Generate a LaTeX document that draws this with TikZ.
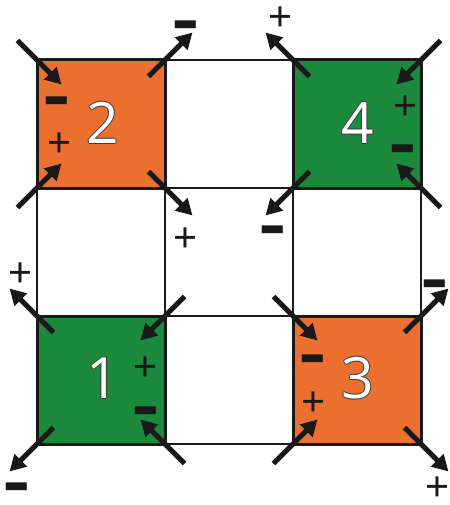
\documentclass[tikz,border=0pt]{standalone}
\usepackage{fontspec}
\setmainfont{Open Sans}
\newfontfamily\signfont{Liberation Sans}
\usetikzlibrary{arrows.meta,calc}
\definecolor{sqorange}{RGB}{235,112,48}
\definecolor{sqgreen}{RGB}{27,138,60}
\definecolor{outl}{RGB}{60,60,60}
\definecolor{ink}{RGB}{25,25,25}
\newcommand\outlined[1]{\leavevmode
  \rlap{\kern-0.8pt\color{outl}#1}\rlap{\kern0.8pt\color{outl}#1}%
  \rlap{\color{outl}\raisebox{0.8pt}{#1}}\rlap{\color{outl}\raisebox{-0.8pt}{#1}}%
  {\color{white}#1}}
\newcommand\cornerarrow[4]{%
  \coordinate (#1-tail) at ($(#2)+({-18*(#3)},{-18*(#4)})$);
  \coordinate (#1-tip) at ($(#2)+({26*(#3)},{26*(#4)})$);
  \draw[arr] (#1-tail) -- (#1-tip);}
\tikzset{
  cell/.style={draw=ink, line width=2pt, minimum width=128pt, minimum height=128pt, inner sep=0pt, fill=white},
  colcell/.style={cell, line width=3pt},
  arr/.style={draw=ink, line width=5pt, -{Triangle[length=16pt,width=17pt]}},
  digit/.style={font=\fontsize{57}{57}\selectfont, inner sep=0pt},
  plus/.style={font=\signfont\fontsize{41}{41}\selectfont, text=ink, inner sep=0pt},
  minus/.style={font=\signfont\bfseries\fontsize{42}{42}\selectfont, text=ink, inner sep=0pt, yshift=-12pt}
}
\newcommand\mns{\scalebox{1}[1.7]{−}}
\begin{document}
\begin{tikzpicture}[x=1pt,y=-1pt]
\useasboundingbox (0,0) rectangle (449,505);
% white cells
\node[cell] (c10) at (229,124) {};
\node[cell] (c01) at (101,252) {};
\node[cell] (c11) at (229,252) {};
\node[cell] (c21) at (357,252) {};
\node[cell] (c12) at (229,380) {};
% coloured cells
\node[colcell, fill=sqorange] (c00) at (101,124) {};
\node[colcell, fill=sqgreen] (c20) at (357,124) {};
\node[colcell, fill=sqgreen] (c02) at (101,380) {};
\node[colcell, fill=sqorange] (c22) at (357,380) {};
% digits
\node[digit] (d2) at (103,123) {\outlined{2}};
\node[digit] (d4) at (358,123) {\outlined{4}};
\node[digit] (d1) at (103,378) {\outlined{1}};
\node[digit] (d3) at (358,378) {\outlined{3}};
% arrows square 2
\cornerarrow{a2nw}{c00.north west}{1}{1}
\cornerarrow{a2ne}{c00.north east}{1}{-1}
\cornerarrow{a2sw}{c00.south west}{1}{-1}
\cornerarrow{a2se}{c00.south east}{1}{1}
% arrows square 4
\cornerarrow{a4nw}{c20.north west}{-1}{-1}
\cornerarrow{a4ne}{c20.north east}{-1}{1}
\cornerarrow{a4sw}{c20.south west}{-1}{1}
\cornerarrow{a4se}{c20.south east}{-1}{-1}
% arrows square 1
\cornerarrow{a1nw}{c02.north west}{-1}{-1}
\cornerarrow{a1ne}{c02.north east}{-1}{1}
\cornerarrow{a1sw}{c02.south west}{-1}{1}
\cornerarrow{a1se}{c02.south east}{-1}{-1}
% arrows square 3
\cornerarrow{a3nw}{c22.north west}{1}{1}
\cornerarrow{a3ne}{c22.north east}{1}{-1}
\cornerarrow{a3sw}{c22.south west}{1}{-1}
\cornerarrow{a3se}{c22.south east}{1}{1}
% signs
\node[minus] (m1) at (57,99) {\mns};
\node[plus] (p1) at (59,145) {+};
\node[minus] (m2) at (186,23) {\mns};
\node[plus] (p2) at (185,240) {+};
\node[plus] (p3) at (280,19) {+};
\node[plus] (p4) at (405,108) {+};
\node[minus] (m3) at (403,147) {\mns};
\node[minus] (m4) at (273,228) {\mns};
\node[plus] (p5) at (20,275) {+};
\node[plus] (p6) at (145,369) {+};
\node[minus] (m5) at (146,409) {\mns};
\node[minus] (m6) at (17,485) {\mns};
\node[minus] (m7) at (435,282) {\mns};
\node[minus] (m8) at (313,357) {\mns};
\node[plus] (p7) at (313,404) {+};
\node[plus] (p8) at (437,489) {+};
\end{tikzpicture}
\end{document}
